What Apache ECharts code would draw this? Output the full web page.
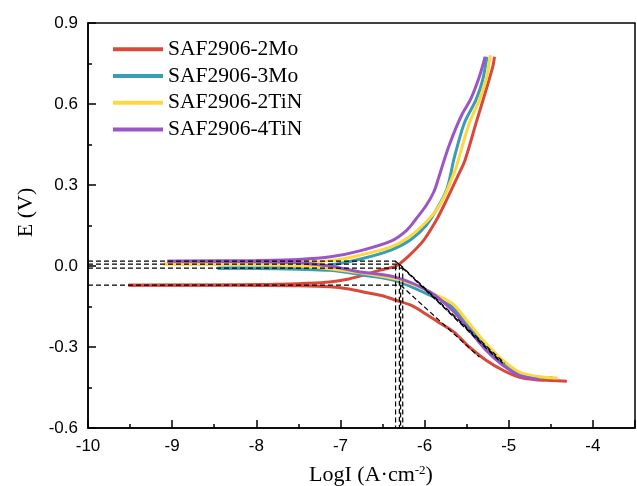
<!DOCTYPE html>
<html><head><meta charset="utf-8">
<script src="https://cdn.jsdelivr.net/npm/echarts@6/dist/echarts.min.js"></script>
<style>html,body{margin:0;padding:0;background:#fff}#c{width:637px;height:486px}</style>
</head><body><div id="c"></div>
<script>
// ---- data ----
const seriesNames = ['SAF2906-2Mo', 'SAF2906-3Mo', 'SAF2906-2TiN', 'SAF2906-4TiN'];
const seriesColors = ['#d9493a', '#389db6', '#fdd83e', '#9a56c6'];
const xTicks = { min: -10, max: -3.5, step: 1 };
const yTicks = { min: -0.6, max: 0.9, step: 0.3 };

// 2Mo
const mo2Cathodic = [[-9.52,-0.071],[-9,-0.071],[-8.5,-0.071],[-8,-0.072],[-7.5,-0.073],[-7.13,-0.077],[-6.9,-0.085],[-6.73,-0.096],[-6.5,-0.11],[-6.34,-0.127],[-6.15,-0.147],[-5.94,-0.187],[-5.8,-0.215],[-5.65,-0.245],[-5.47,-0.300],[-5.27,-0.349],[-5.07,-0.386],[-4.88,-0.411],[-4.68,-0.421],[-4.5,-0.424],[-4.31,-0.427]];
const mo2Anodic = [[-9.52,-0.071],[-8.5,-0.070],[-7.8,-0.068],[-7.4,-0.064],[-7.13,-0.059],[-6.9,-0.048],[-6.73,-0.034],[-6.54,-0.016],[-6.34,0.0],[-6.2,0.034],[-6.01,0.096],[-5.86,0.170],[-5.74,0.244],[-5.61,0.330],[-5.52,0.392],[-5.39,0.528],[-5.27,0.652],[-5.19,0.738],[-5.17,0.775]];
// 3Mo
const mo3Cathodic = [[-8.46,-0.008],[-8,-0.009],[-7.5,-0.012],[-7.13,-0.016],[-6.7,-0.035],[-6.34,-0.055],[-5.94,-0.108],[-5.67,-0.152],[-5.47,-0.226],[-5.27,-0.300],[-5.07,-0.361],[-4.88,-0.398],[-4.68,-0.411],[-4.48,-0.414]];
const mo3Anodic = [[-8.46,-0.008],[-8,-0.007],[-7.5,-0.004],[-7.1,0.005],[-6.77,0.025],[-6.4,0.059],[-6.17,0.096],[-5.98,0.151],[-5.84,0.219],[-5.74,0.281],[-5.69,0.340],[-5.655,0.392],[-5.53,0.528],[-5.39,0.615],[-5.31,0.689],[-5.26,0.775]];
// 2TiN
const tin2Cathodic = [[-9.1,0.007],[-8.5,0.006],[-8,0.005],[-7.5,0.0],[-7.13,-0.010],[-6.7,-0.028],[-6.34,-0.048],[-6.06,-0.077],[-5.94,-0.096],[-5.67,-0.139],[-5.47,-0.213],[-5.27,-0.287],[-5.07,-0.349],[-4.88,-0.392],[-4.68,-0.408],[-4.42,-0.415]];
const tin2Anodic = [[-9.1,0.007],[-8.5,0.008],[-8,0.009],[-7.5,0.012],[-7.1,0.02],[-6.77,0.040],[-6.4,0.071],[-6.21,0.102],[-6.02,0.151],[-5.86,0.207],[-5.75,0.269],[-5.67,0.330],[-5.63,0.361],[-5.60,0.392],[-5.47,0.528],[-5.35,0.615],[-5.27,0.689],[-5.22,0.781]];
// 4TiN
const tin4Cathodic = [[-9.06,0.018],[-8.5,0.017],[-8,0.016],[-7.5,0.012],[-7.13,0.0],[-6.8,-0.02],[-6.34,-0.042],[-5.94,-0.096],[-5.67,-0.164],[-5.47,-0.238],[-5.27,-0.312],[-5.07,-0.368],[-4.88,-0.405],[-4.75,-0.415],[-4.64,-0.421]];
const tin4Anodic = [[-9.06,0.018],[-8.5,0.019],[-8,0.020],[-7.5,0.024],[-7.1,0.035],[-6.77,0.056],[-6.4,0.092],[-6.22,0.130],[-6.1,0.175],[-5.98,0.225],[-5.89,0.275],[-5.83,0.330],[-5.78,0.380],[-5.71,0.445],[-5.63,0.510],[-5.55,0.565],[-5.45,0.620],[-5.35,0.701],[-5.28,0.775]];

// Tafel fit: corrosion potential, log corrosion current, cathodic tangent end
const eCorr = [-0.071, -0.008, 0.007, 0.018];
const logICorr = [-6.285, -6.26, -6.30, -6.345];
const tangentEnd = [[-5.35,-0.337],[-5.10,-0.355],[-5.05,-0.36],[-5.07,-0.36]];

const branches = [[mo2Cathodic, mo2Anodic],[mo3Cathodic, mo3Anodic],[tin2Cathodic, tin2Anodic],[tin4Cathodic, tin4Anodic]];

// ---- chart ----
const chart = echarts.init(document.getElementById('c'), null, { renderer: 'canvas' });
const series = [];
branches.forEach((pair, i) => {
  pair.forEach(arr => {
    series.push({
      name: seriesNames[i], type: 'line', data: arr, showSymbol: false, smooth: 0.3,
      lineStyle: { color: seriesColors[i], width: 3 }, itemStyle: { color: seriesColors[i] }, z: 2 + i
    });
  });
});
const dash = { color: '#000', width: 1.2, type: [5, 3] };
eCorr.forEach((e, i) => {
  series.push({
    type: 'line', data: [[xTicks.min, e],[logICorr[i], e],[logICorr[i], yTicks.min]],
    showSymbol: false, lineStyle: dash, z: 10, silent: true
  });
  series.push({
    type: 'line', data: [[logICorr[i], e], tangentEnd[i]],
    showSymbol: false, lineStyle: dash, z: 10, silent: true
  });
});

const axisCommon = {
  axisLine: { show: true, onZero: false, lineStyle: { color: '#000', width: 1.5 } },
  axisTick: { show: true, inside: true, length: 8, lineStyle: { color: '#000', width: 1.5 } },
  minorTick: { show: true, splitNumber: 2, length: 4, lineStyle: { color: '#000', width: 1.5 } },
  splitLine: { show: false },
  axisLabel: { color: '#000', fontFamily: 'Liberation Sans', fontSize: 17 }
};

chart.setOption({
  animation: false,
  backgroundColor: '#fff',
  grid: { left: 88, right: 2, top: 23, bottom: 58, show: true, borderColor: '#000', borderWidth: 1.5, outerBoundsMode: 'none', containLabel: false },
  legend: {
    data: seriesNames, left: 108, top: 31, orient: 'vertical', itemGap: 0,
    icon: 'rect', itemWidth: 50, itemHeight: 4,
    textStyle: { fontFamily: 'Liberation Serif', fontSize: 21.5, color: '#000', lineHeight: 26.7 }
  },
  xAxis: Object.assign({}, axisCommon, {
    type: 'value', min: xTicks.min, max: xTicks.max, interval: xTicks.step,
    axisLabel: Object.assign({}, axisCommon.axisLabel, { margin: 10, showMaxLabel: false }),
    name: '{a|LogI (A·cm}{s|-2}{a|)}', nameLocation: 'middle', nameGap: 36,
    nameTextStyle: { padding: [0,0,0,19], rich: {
      a: { fontFamily: 'Liberation Serif', fontSize: 22, color: '#000' },
      s: { fontFamily: 'Liberation Serif', fontSize: 13, color: '#000', verticalAlign: 'top', padding: [0,0,10,0] }
    } }
  }),
  yAxis: Object.assign({}, axisCommon, {
    type: 'value', min: yTicks.min, max: yTicks.max, interval: yTicks.step,
    axisLabel: Object.assign({}, axisCommon.axisLabel, { margin: 10, formatter: v => v.toFixed(1) }),
    name: 'E (V)', nameLocation: 'middle', nameGap: 51,
    nameTextStyle: { fontFamily: 'Liberation Serif', fontSize: 22, color: '#000', padding: [0,0,0,26] }
  }),
  series: series
});
</script></body></html>
